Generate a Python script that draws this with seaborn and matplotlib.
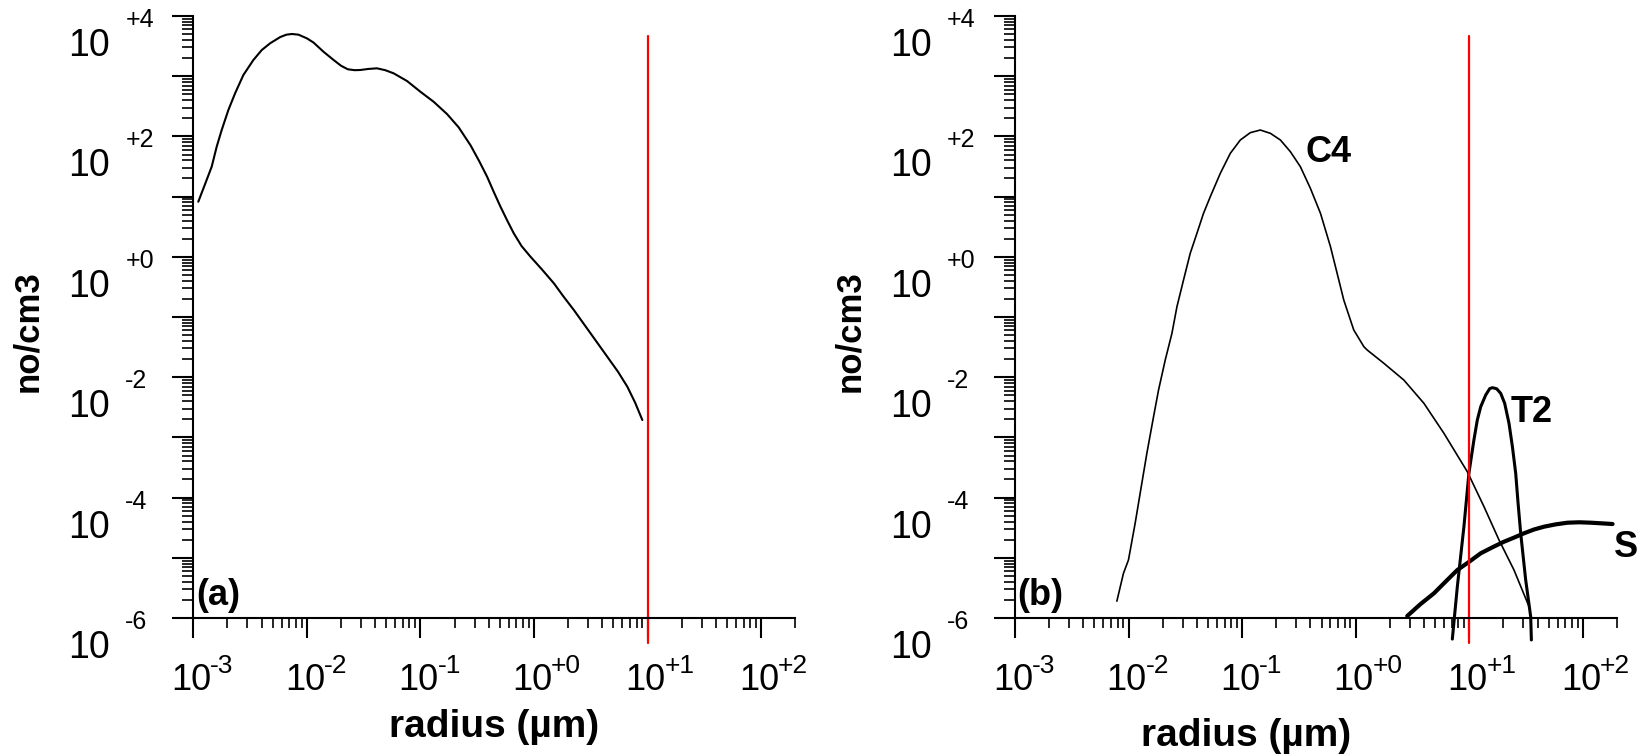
import numpy as np
import pandas as pd
import matplotlib
matplotlib.use("Agg")
import matplotlib.pyplot as plt
from matplotlib.ticker import LogLocator, NullFormatter
import seaborn as sns

# ---------------- data (decimal logarithms) ----------------
# (a) size distribution: log10 radius [µm], log10 concentration [no/cm3]
log_r_a = [-2.956, -2.900, -2.838, -2.794, -2.750, -2.691, -2.632, -2.559,
           -2.471, -2.397, -2.324, -2.235, -2.180, -2.132, -2.074, -2.000,
           -1.942, -1.854, -1.765, -1.700, -1.640, -1.580, -1.530, -1.460,
           -1.383, -1.310, -1.236, -1.118, -1.001, -0.884, -0.765, -0.663,
           -0.558, -0.480, -0.413, -0.350, -0.295, -0.235, -0.178, -0.110,
           -0.031, 0.070, 0.175, 0.260, 0.351, 0.498, 0.645, 0.740,
           0.822, 0.890, 0.954]
log_n_a = [0.915, 1.190, 1.497, 1.829, 2.106, 2.439, 2.716, 3.020,
           3.269, 3.435, 3.546, 3.650, 3.690, 3.701, 3.690, 3.629,
           3.560, 3.407, 3.270, 3.175, 3.115, 3.100, 3.103, 3.120,
           3.131, 3.100, 3.048, 2.920, 2.743, 2.576, 2.370, 2.150,
           1.850, 1.580, 1.331, 1.060, 0.832, 0.600, 0.390, 0.180,
           0.002, -0.210, -0.440, -0.660, -0.884, -1.271, -1.659, -1.910,
           -2.158, -2.420, -2.711]

# (b) mode C4
log_r_c4 = [-2.103, -2.045, -2.001, -1.942, -1.898, -1.839, -1.780, -1.736,
            -1.677, -1.618, -1.574, -1.516, -1.457, -1.398, -1.340, -1.280,
            -1.192, -1.104, -1.016, -0.928, -0.840, -0.751, -0.663, -0.575,
            -0.487, -0.399, -0.310, -0.222, -0.134, -0.105, -0.017, 0.072,
            0.101, 0.248, 0.424, 0.601, 0.777, 0.983, 1.130, 1.262,
            1.394, 1.527]
log_n_c4 = [-5.720, -5.258, -5.037, -4.427, -3.929, -3.265, -2.656, -2.213,
            -1.714, -1.271, -0.829, -0.385, 0.058, 0.390, 0.722, 1.000,
            1.387, 1.719, 1.940, 2.062, 2.106, 2.051, 1.940, 1.746,
            1.497, 1.138, 0.722, 0.168, -0.497, -0.718, -1.216, -1.493,
            -1.548, -1.769, -2.047, -2.434, -2.932, -3.570, -4.151, -4.704,
            -5.203, -5.812]

# (b) mode T2
log_r_t2 = [0.851, 0.895, 0.953, 0.997, 1.041, 1.071, 1.101, 1.145,
            1.180, 1.204, 1.241, 1.277, 1.312, 1.350, 1.380, 1.409,
            1.430, 1.453, 1.497, 1.541, 1.547]
log_n_t2 = [-6.350, -5.480, -4.483, -3.596, -3.043, -2.711, -2.490, -2.296,
            -2.190, -2.174, -2.191, -2.268, -2.434, -2.766, -3.154, -3.596,
            -4.095, -4.593, -5.369, -5.978, -6.365]

# (b) mode S
log_r_s = [0.454, 0.570, 0.689, 0.795, 0.895, 1.000, 1.101, 1.210,
           1.306, 1.400, 1.482, 1.570, 1.659, 1.760, 1.865, 1.970,
           2.070, 2.170, 2.262]
log_n_s = [-5.967, -5.770, -5.590, -5.390, -5.203, -5.065, -4.925, -4.820,
           -4.733, -4.660, -4.593, -4.530, -4.483, -4.445, -4.417, -4.410,
           -4.417, -4.428, -4.439]

# cut-off radius marker (µm) and its vertical extent (no/cm3)
cutoff_radius = [10.0, 10.0]
cutoff_conc = [4.7e3, 3.8e-7]

# tick labels (decade exponents)
x_label_exps = [-3, -2, -1, 0, 1, 2]
y_label_exps = [4, 2, 0, -2, -4, -6]

# mode names and where they are written (µm, no/cm3)
mode_names = ["C4", "T2", "S"]
mode_name_x = [0.36, 23.2, 187.6]
mode_name_y = [37.6, 1.80e-3, 1.03e-5]


def to_frame(log_r, log_n):
    return pd.DataFrame({"radius": np.power(10.0, log_r),
                         "conc": np.power(10.0, log_n)})


# ---------------- style ----------------
sns.set_theme(style="ticks")
plt.rcParams["font.family"] = ["Liberation Sans", "DejaVu Sans"]
plt.rcParams["axes.linewidth"] = 1.5

W, H = 1647, 756
fig = plt.figure(figsize=(W / 100, H / 100), dpi=100)
ax_a = fig.add_axes([193.3 / W, 138 / H, 602 / W, 602 / H])
ax_b = fig.add_axes([1015 / W, 138 / H, 602 / W, 602 / H])


def style_axes(ax):
    ax.set_xscale("log")
    ax.set_yscale("log")
    ax.set_xlim(1e-3, 2e2)
    ax.set_ylim(1e-6, 1e4)
    ax.set_facecolor("white")
    for side in ("top", "right"):
        ax.spines[side].set_visible(False)
    for side in ("left", "bottom"):
        ax.spines[side].set_color("black")
        ax.spines[side].set_linewidth(1.5)
    for axis in (ax.xaxis, ax.yaxis):
        axis.set_major_locator(LogLocator(base=10, subs=(1.0,), numticks=30))
        axis.set_minor_locator(LogLocator(base=10, subs=np.arange(2, 10), numticks=200))
        axis.set_minor_formatter(NullFormatter())
    ax.tick_params(which="both", direction="out", color="black",
                   labelbottom=False, labelleft=False)
    ax.tick_params(axis="x", which="major", length=14.4, width=1.5)
    ax.tick_params(axis="x", which="minor", length=7.2, width=1.2)
    ax.tick_params(axis="y", which="major", length=15, width=1.5)
    ax.tick_params(axis="y", which="minor", length=8, width=1.2)

    # decade labels: "10" with its exponent set apart
    for e in y_label_exps:
        v = 10.0 ** e
        ax.annotate("10", xy=(0, v), xycoords=("axes fraction", "data"),
                    xytext=(-83, -40), textcoords="offset pixels",
                    ha="right", va="baseline", fontsize=27, color="black",
                    annotation_clip=False)
        ax.annotate(f"{e:+d}", xy=(0, v), xycoords=("axes fraction", "data"),
                    xytext=(-68, -11), textcoords="offset pixels",
                    ha="left", va="baseline", fontsize=18, color="black",
                    annotation_clip=False)
    for e in x_label_exps:
        v = 10.0 ** e
        ax.annotate("10", xy=(v, 0), xycoords=("data", "axes fraction"),
                    xytext=(-2, -72), textcoords="offset pixels",
                    ha="center", va="baseline", fontsize=26, color="black",
                    annotation_clip=False)
        ax.annotate(f"{e:+d}", xy=(v, 0), xycoords=("data", "axes fraction"),
                    xytext=(17, -55), textcoords="offset pixels",
                    ha="left", va="baseline", fontsize=19, color="black",
                    annotation_clip=False)


def set_labels(ax, xlabel_x, xlabel_y):
    ax.set_ylabel("no/cm3", fontsize=25, fontweight="bold", color="black",
                  visible=True)
    ax.yaxis.set_label_coords(-0.275, 0.477)
    ax.yaxis.label.set_va("center")
    ax.set_xlabel("radius (µm)", fontsize=28, fontweight="bold",
                  color="black", visible=True)
    ax.xaxis.set_label_coords(xlabel_x, xlabel_y)
    ax.xaxis.label.set_va("baseline")


style_axes(ax_a)
style_axes(ax_b)

# ---------------- panel (a) ----------------
sns.lineplot(data=to_frame(log_r_a, log_n_a), x="radius", y="conc", ax=ax_a,
             sort=False, estimator=None, color="black", linewidth=1.5)
sns.lineplot(x=cutoff_radius, y=cutoff_conc, ax=ax_a, sort=False,
             estimator=None, color="#ff0000", linewidth=1.6, clip_on=False)
ax_a.text(0.0045, 0.0216, "(a)", transform=ax_a.transAxes, fontsize=26,
          fontweight="bold", ha="left", va="baseline", color="black")
set_labels(ax_a, 0.5, -0.197)

# ---------------- panel (b) ----------------
sns.lineplot(data=to_frame(log_r_c4, log_n_c4), x="radius", y="conc", ax=ax_b,
             sort=False, estimator=None, color="black", linewidth=1.2)
sns.lineplot(data=to_frame(log_r_t2, log_n_t2), x="radius", y="conc", ax=ax_b,
             sort=False, estimator=None, color="black", linewidth=2.2,
             clip_on=False)
sns.lineplot(data=to_frame(log_r_s, log_n_s), x="radius", y="conc", ax=ax_b,
             sort=False, estimator=None, color="black", linewidth=3.0,
             solid_capstyle="round")
sns.lineplot(x=cutoff_radius, y=cutoff_conc, ax=ax_b, sort=False,
             estimator=None, color="#ff0000", linewidth=1.6, clip_on=False)
for name, nx, ny in zip(mode_names, mode_name_x, mode_name_y):
    ax_b.text(nx, ny, name, fontsize=26, fontweight="bold", ha="left",
              va="baseline", color="black", clip_on=False)
ax_b.text(0.003, 0.0224, "(b)", transform=ax_b.transAxes, fontsize=26,
          fontweight="bold", ha="left", va="baseline", color="black")
set_labels(ax_b, 0.384, -0.212)

fig.savefig("out.png", dpi=100, facecolor="white")
